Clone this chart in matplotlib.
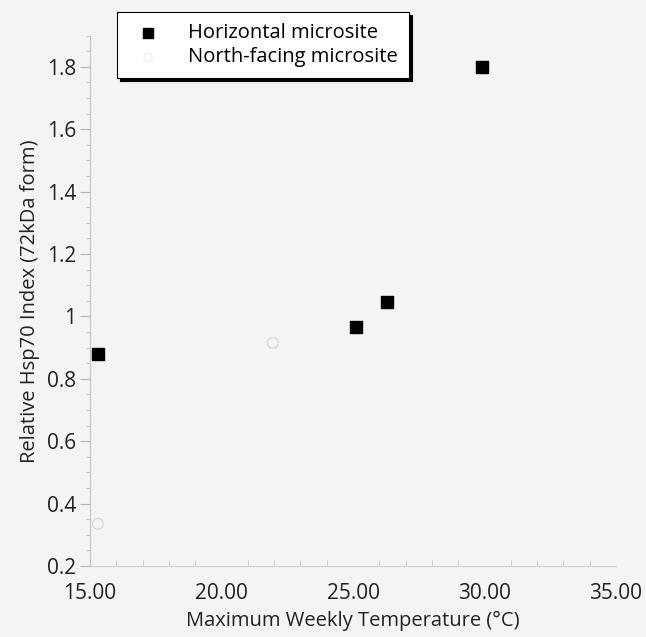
import matplotlib.pyplot as plt
from matplotlib.ticker import MultipleLocator, FixedLocator

# data
horiz_temp = [15.3, 25.1, 26.3, 29.9]
horiz_hsp = [0.88, 0.965, 1.045, 1.80]
north_temp = [15.3, 21.95]
north_hsp = [0.335, 0.915]

x_ticks = [15, 20, 25, 30, 35]
x_labels = ['15.00', '20.00', '25.00', '30.00', '35.00']
y_ticks = [0.2, 0.4, 0.6, 0.8, 1.0, 1.2, 1.4, 1.6, 1.8]
y_labels = ['0.2', '0.4', '0.6', '0.8', '1', '1.2', '1.4', '1.6', '1.8']

bg = '#f6f3f3'
plt.rcParams['font.family'] = ['Open Sans', 'DejaVu Sans']

fig = plt.figure(figsize=(6.46, 6.37), dpi=100, facecolor=bg)
ax = fig.add_axes([0.1393, 0.1115, 0.8143, 0.8325])
ax.set_facecolor(bg)

ax.scatter(horiz_temp, horiz_hsp, marker='s', s=75, color='black',
           label='Horizontal microsite', zorder=3)
ax.scatter(north_temp, north_hsp, marker='o', s=60, facecolor='none',
           edgecolor='#d8d4d4', linewidth=0.8, label='North-facing microsite', zorder=3)

ax.set_xlim(15, 35)
ax.set_ylim(0.2, 1.9)
ax.xaxis.set_major_locator(FixedLocator(x_ticks))
ax.set_xticklabels(x_labels)
ax.yaxis.set_major_locator(FixedLocator(y_ticks))
ax.set_yticklabels(y_labels)
ax.xaxis.set_minor_locator(MultipleLocator(1))
ax.yaxis.set_minor_locator(MultipleLocator(0.05))

for s in ['top', 'right']:
    ax.spines[s].set_visible(False)
ax.spines['left'].set_color('#c8c4c4')
ax.spines['bottom'].set_color('#d4d0d0')
ax.spines['left'].set_linewidth(0.8)
ax.spines['bottom'].set_linewidth(0.8)

ax.tick_params(axis='y', which='major', direction='out', length=7, width=0.8,
               color='#b8b4b4', labelsize=15, labelcolor='#222222', pad=3)
ax.tick_params(axis='y', which='minor', direction='out', length=3, width=0.6, color='#c0bcbc')
ax.tick_params(axis='x', which='major', direction='in', length=0, labelsize=15,
               labelcolor='#222222', pad=12)
ax.tick_params(axis='x', which='minor', direction='in', length=4, width=0.6, color='#c8c4c4')

ax.set_xlabel('Maximum Weekly Temperature (°C)', fontsize=14.5, color='#222222', labelpad=5)
ax.set_ylabel('Relative Hsp70 Index (72kDa form)', fontsize=14.5, color='#222222', labelpad=5)

leg = ax.legend(loc='upper left', bbox_to_anchor=(0.181, 0.981), bbox_transform=fig.transFigure,
                borderaxespad=0, fontsize=14.5, frameon=True, fancybox=False, borderpad=0.55,
                handletextpad=1.0, handlelength=2.0, labelspacing=0.2, markerscale=0.75,
                shadow={'color': 'black', 'alpha': 1})
leg.get_frame().set_edgecolor('black')
leg.get_frame().set_linewidth(0.8)
leg.get_frame().set_facecolor('white')
leg.legend_handles[1].set_edgecolor('#f0ecec')

fig.savefig('out.png', dpi=100, facecolor=bg)
